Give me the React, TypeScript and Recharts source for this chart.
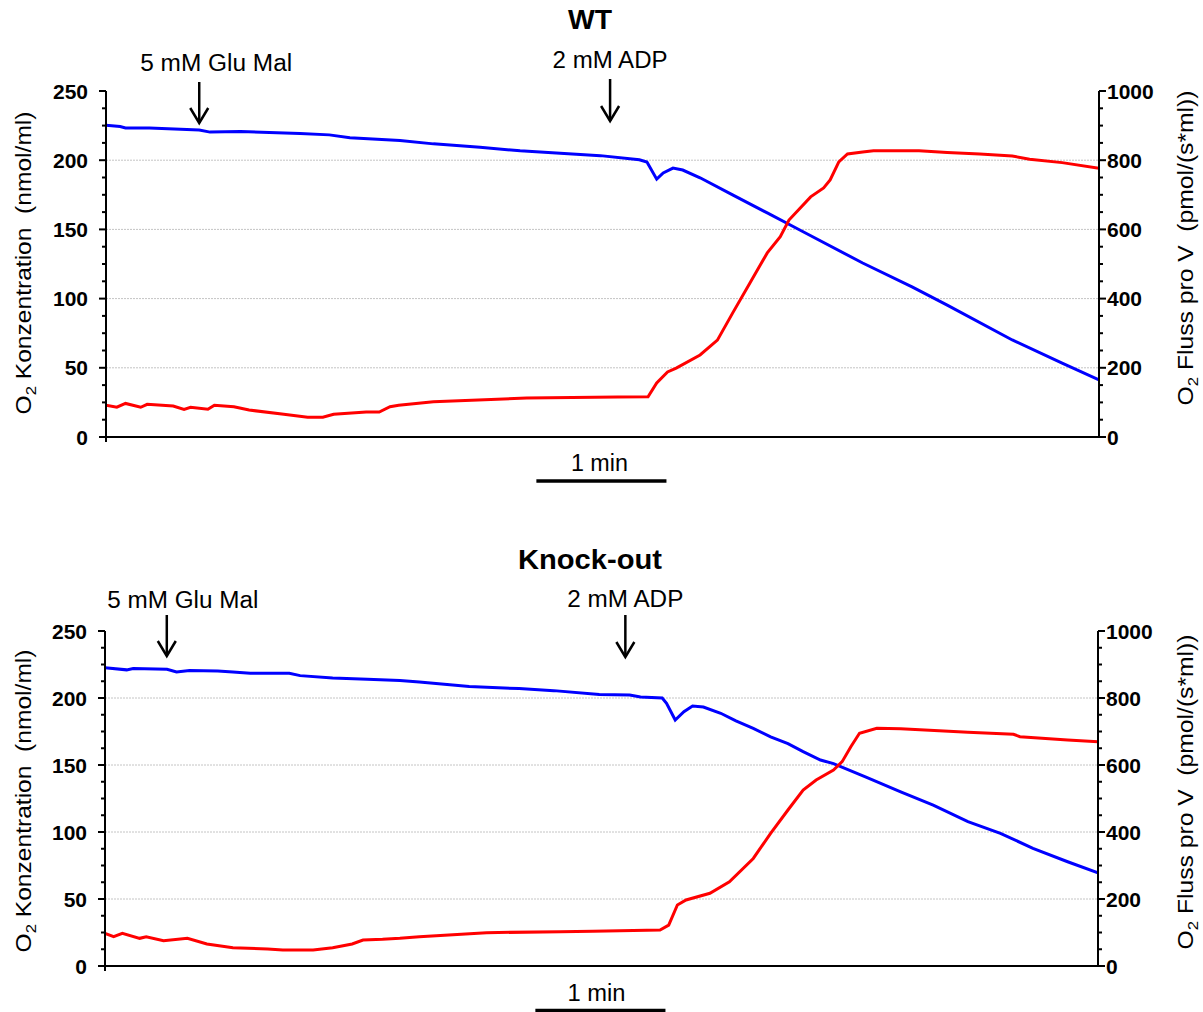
import React from 'react';
import { LineChart, Line, XAxis, YAxis, ReferenceLine } from 'recharts';

const FONT = 'Liberation Sans, Arial, Helvetica, sans-serif';
const T_MAX = 458; // seconds shown on the time axis

// ---------- WT ----------
const wtO2Time = [0, 6.5, 9, 20, 43, 48, 62, 89.5, 103, 112.5, 135.6, 151, 172.5, 191, 228, 246, 249.5, 254, 257, 261.5, 266, 274, 289, 305, 320, 349, 372, 388, 418, 441, 458];
const wtO2Conc = [225.3, 224.3, 223.3, 223.3, 221.8, 220.3, 220.8, 219.3, 218.3, 216.3, 214.3, 211.8, 209.3, 206.8, 203.3, 200.3, 198.7, 186.3, 190.8, 194.3, 192.9, 187.3, 174.9, 161.9, 149.6, 125.7, 108.3, 95.3, 70.1, 53.3, 41.3];
const wtFluxTime = [0, 5, 9, 16, 19, 31, 36, 39, 47, 50, 59, 66, 82, 93, 100, 105, 120, 126, 131, 135, 151, 194, 236, 250, 254, 259, 263, 274, 282, 289, 297, 305, 311, 315, 325, 331, 334, 338, 342, 349, 354, 375, 388, 403, 418, 426, 441, 458];
const wtFlux = [92, 86, 97, 86, 94.5, 89.6, 80, 86, 80, 92, 87.6, 78, 65.6, 57, 57, 65.6, 72, 72, 87.6, 92, 102, 112.7, 115.6, 116.5, 156, 188, 199, 237, 280, 358, 445, 532, 579, 627, 694, 720, 743, 795, 818, 824, 827, 827, 822, 818, 812, 803, 793, 777];

// ---------- Knock-out ----------
const koO2Time = [0, 10, 13, 28.6, 33, 39, 52, 59, 67, 85, 90, 105, 121, 136, 145, 168, 191, 207, 228, 242, 247, 257, 259, 263, 267, 271, 276, 284, 291, 299, 307, 315, 322, 330, 336, 351, 367, 382, 398, 413, 428, 444, 458];
const koO2Conc = [222.6, 221, 222, 221.4, 219.4, 220.5, 220.2, 219.4, 218.4, 218.4, 216.7, 215, 214, 213, 212, 208.5, 207, 205.5, 202.7, 202.2, 200.7, 200, 196, 183.6, 189.8, 194, 193.3, 188.6, 183, 177.4, 171, 166, 160, 153.7, 151, 141, 130, 120, 107.7, 99, 87.8, 77.8, 69.6];
const koFluxTime = [0, 4, 8, 16, 19, 27, 38, 47, 59, 75, 82, 96, 105, 114, 119, 128, 136, 145, 176, 210, 225, 256, 260, 264, 268, 279, 288, 299, 307, 315, 322, 328, 336, 340, 344, 348, 356, 367, 398, 419, 422, 444, 458];
const koFlux = [97.5, 87.5, 97.5, 82.6, 87.5, 75.6, 82.6, 65.7, 54.7, 50.7, 47.8, 47.8, 54.7, 65.7, 77.6, 79.6, 82.6, 87.5, 99.5, 102.5, 103.5, 107.5, 122, 182, 197, 217, 251.6, 321, 396, 465.7, 525, 555, 585, 610, 654.6, 694.6, 709.5, 708, 697.6, 691.6, 684.6, 674.6, 669.6];

// ---------- axes ----------
const leftMajorTicks = [0, 50, 100, 150, 200, 250];
const rightMajorTicks = [0, 200, 400, 600, 800, 1000];
const gridValues = [50, 100, 150, 200];
const leftMinorPerMajor = 4; // 12.5 steps
const rightMinorPerMajor = 4; // 50 steps

// ---------- annotations ----------
const additionLabels = ['5 mM Glu Mal', '2 mM ADP'];
const wtAdditionTimes = [43, 232.5];
const koAdditionTimes = [28.5, 240];
const scaleBarStart = 198.5; // s
const scaleBarLength = 60; // s = 1 min

const withMinors = (majors: number[], n: number) => {
  const out: number[] = [];
  for (let i = 0; i < majors.length; i++) {
    out.push(majors[i]);
    if (i < majors.length - 1) {
      const step = (majors[i + 1] - majors[i]) / n;
      for (let k = 1; k < n; k++) out.push(majors[i] + k * step);
    }
  }
  return out;
};
const leftAllTicks = withMinors(leftMajorTicks, leftMinorPerMajor);
const rightAllTicks = withMinors(rightMajorTicks, rightMinorPerMajor);

const zip = (ts: number[], vs: number[]) => ts.map((t, i) => ({ t, v: vs[i] }));

const LeftTick = (props: any) => {
  const { x, y, payload } = props;
  const major = leftMajorTicks.includes(payload.value);
  return (
    <g>
      <line x1={x} x2={x - (major ? 7 : 4)} y1={y} y2={y} stroke="#000" strokeWidth={2} />
      {major && (
        <text x={x - 18} y={y} dy="0.36em" textAnchor="end" fontFamily={FONT} fontWeight="bold" fontSize={21} fill="#000">
          {payload.value}
        </text>
      )}
    </g>
  );
};

const RightTick = (props: any) => {
  const { x, y, payload } = props;
  const major = rightMajorTicks.includes(payload.value);
  return (
    <g>
      <line x1={x} x2={x + (major ? 7 : 4)} y1={y} y2={y} stroke="#000" strokeWidth={2} />
      {major && (
        <text x={x + 8} y={y} dy="0.36em" textAnchor="start" fontFamily={FONT} fontWeight="bold" fontSize={21} fill="#000">
          {payload.value}
        </text>
      )}
    </g>
  );
};

const XTick = (props: any) => {
  const { x, y } = props;
  return <line x1={x} x2={x} y1={y} y2={y + 5} stroke="#000" strokeWidth={2} />;
};

type PanelProps = {
  top: number;
  height: number;
  marginTop: number;
  marginBottom: number;
  leftWidth: number;
  rightWidth: number;
  o2: { t: number; v: number }[];
  flux: { t: number; v: number }[];
};

const Panel = ({ top, height, marginTop, marginBottom, leftWidth, rightWidth, o2, flux }: PanelProps) => (
  <div style={{ position: 'absolute', left: 0, top, width: 1203, height }}>
    <LineChart width={1203} height={height} margin={{ top: marginTop, right: 0, bottom: marginBottom, left: 0 }}>
      <XAxis
        type="number"
        dataKey="t"
        domain={[0, T_MAX]}
        ticks={[0]}
        interval={0}
        height={10}
        tickSize={0}
        tickMargin={0}
        tick={<XTick />}
        tickLine={false}
        axisLine={{ stroke: '#000', strokeWidth: 2 }}
        allowDataOverflow
      />
      <YAxis
        yAxisId="left"
        orientation="left"
        width={leftWidth}
        domain={[0, 250]}
        ticks={leftAllTicks}
        interval={0}
        tickSize={0}
        tickMargin={0}
        tickLine={false}
        tick={<LeftTick />}
        axisLine={{ stroke: '#000', strokeWidth: 2 }}
        allowDataOverflow
      />
      <YAxis
        yAxisId="right"
        orientation="right"
        width={rightWidth}
        domain={[0, 1000]}
        ticks={rightAllTicks}
        interval={0}
        tickSize={0}
        tickMargin={0}
        tickLine={false}
        tick={<RightTick />}
        axisLine={{ stroke: '#000', strokeWidth: 2 }}
        allowDataOverflow
      />
      {gridValues.map((g) => (
        <ReferenceLine key={g} yAxisId="left" y={g} stroke="#c4c4c4" strokeDasharray="2 1" strokeWidth={1} />
      ))}
      <Line
        yAxisId="left"
        data={o2}
        dataKey="v"
        type="linear"
        stroke="#0000ff"
        strokeWidth={3}
        dot={false}
        isAnimationActive={false}
      />
      <Line
        yAxisId="right"
        data={flux}
        dataKey="v"
        type="linear"
        stroke="#ff0000"
        strokeWidth={3}
        dot={false}
        isAnimationActive={false}
      />
    </LineChart>
  </div>
);

const Arrow = ({ x, y1, y2 }: { x: number; y1: number; y2: number }) => (
  <g stroke="#000" strokeWidth={2.5} fill="none">
    <line x1={x} x2={x} y1={y1} y2={y2} />
    <polyline points={`${x - 9},${y2 - 15} ${x},${y2} ${x + 9},${y2 - 15}`} />
  </g>
);

const Label = ({ x, y, text, len, size = 23, bold = false }: { x: number; y: number; text: string; len: number; size?: number; bold?: boolean }) => (
  <text
    x={x}
    y={y}
    textAnchor="middle"
    fontFamily={FONT}
    fontSize={size}
    fontWeight={bold ? 'bold' : 'normal'}
    textLength={len}
    lengthAdjust="spacingAndGlyphs"
    fill="#000"
  >
    {text}
  </text>
);

const AxisTitle = ({ x, y, main, rest, len }: { x: number; y: number; main: string; rest: string; len: number }) => (
  <text
    transform={`translate(${x},${y}) rotate(-90)`}
    textAnchor="middle"
    fontFamily={FONT}
    fontSize={22}
    fill="#000"
    textLength={len}
    lengthAdjust="spacingAndGlyphs"
    style={{ whiteSpace: 'pre' }}
  >
    <tspan>{main}</tspan>
    <tspan fontSize={15} dy={5}>2</tspan>
    <tspan dy={-5}>{rest}</tspan>
  </text>
);

export default function App() {
  const wtO2 = zip(wtO2Time, wtO2Conc);
  const wtF = zip(wtFluxTime, wtFlux);
  const koO2 = zip(koO2Time, koO2Conc);
  const koF = zip(koFluxTime, koFlux);

  // plot geometry (must match Panel margins / axis widths)
  const wtLeft = 106, wtWidth = 1203 - 106 - 104;
  const koLeft = 105, koWidth = 1203 - 105 - 105;
  const xWT = (t: number) => wtLeft + (t / T_MAX) * wtWidth;
  const xKO = (t: number) => koLeft + (t / T_MAX) * koWidth;

  const wtBar0 = xWT(scaleBarStart), wtBar1 = xWT(scaleBarStart + scaleBarLength);
  const koBar0 = xKO(scaleBarStart), koBar1 = xKO(scaleBarStart + scaleBarLength);

  return (
    <div style={{ position: 'absolute', left: 0, top: 0, width: 1203, height: 1012, background: '#fff', overflow: 'hidden' }}>
      <Panel top={0} height={500} marginTop={91} marginBottom={53} leftWidth={106} rightWidth={104} o2={wtO2} flux={wtF} />
      <Panel top={500} height={512} marginTop={131} marginBottom={36} leftWidth={105} rightWidth={105} o2={koO2} flux={koF} />
      <svg width={1203} height={1012} style={{ position: 'absolute', left: 0, top: 0, pointerEvents: 'none' }}>
        {/* titles */}
        <Label x={590} y={29} text="WT" len={44} size={28} bold />
        <Label x={590} y={569} text="Knock-out" len={144} size={28} bold />

        {/* WT annotations */}
        <Label x={xWT(wtAdditionTimes[0]) + 17} y={71} text={additionLabels[0]} len={152} />
        <Arrow x={xWT(wtAdditionTimes[0])} y1={82} y2={123} />
        <Label x={xWT(wtAdditionTimes[1])} y={68} text={additionLabels[1]} len={115} />
        <Arrow x={xWT(wtAdditionTimes[1])} y1={79} y2={121} />

        {/* KO annotations */}
        <Label x={xKO(koAdditionTimes[0]) + 16} y={608} text={additionLabels[0]} len={151} />
        <Arrow x={xKO(koAdditionTimes[0])} y1={615} y2={656} />
        <Label x={xKO(koAdditionTimes[1])} y={607} text={additionLabels[1]} len={116} />
        <Arrow x={xKO(koAdditionTimes[1])} y1={615} y2={657} />

        {/* scale bars */}
        <Label x={(wtBar0 + wtBar1) / 2 - 2} y={471} text="1 min" len={57} />
        <line x1={wtBar0} x2={wtBar1} y1={481} y2={481} stroke="#000" strokeWidth={3.5} />
        <Label x={(koBar0 + koBar1) / 2 - 4} y={1001} text="1 min" len={58} />
        <line x1={koBar0} x2={koBar1} y1={1010.5} y2={1010.5} stroke="#000" strokeWidth={3.5} />

        {/* axis titles */}
        <AxisTitle x={31} y={263} main="O" rest={' Konzentration  (nmol/ml)'} len={303} />
        <AxisTitle x={1193} y={248} main="O" rest={' Fluss pro V  (pmol/(s*ml))'} len={315} />
        <AxisTitle x={31} y={801} main="O" rest={' Konzentration  (nmol/ml)'} len={303} />
        <AxisTitle x={1193} y={792} main="O" rest={' Fluss pro V  (pmol/(s*ml))'} len={315} />
      </svg>
    </div>
  );
}
